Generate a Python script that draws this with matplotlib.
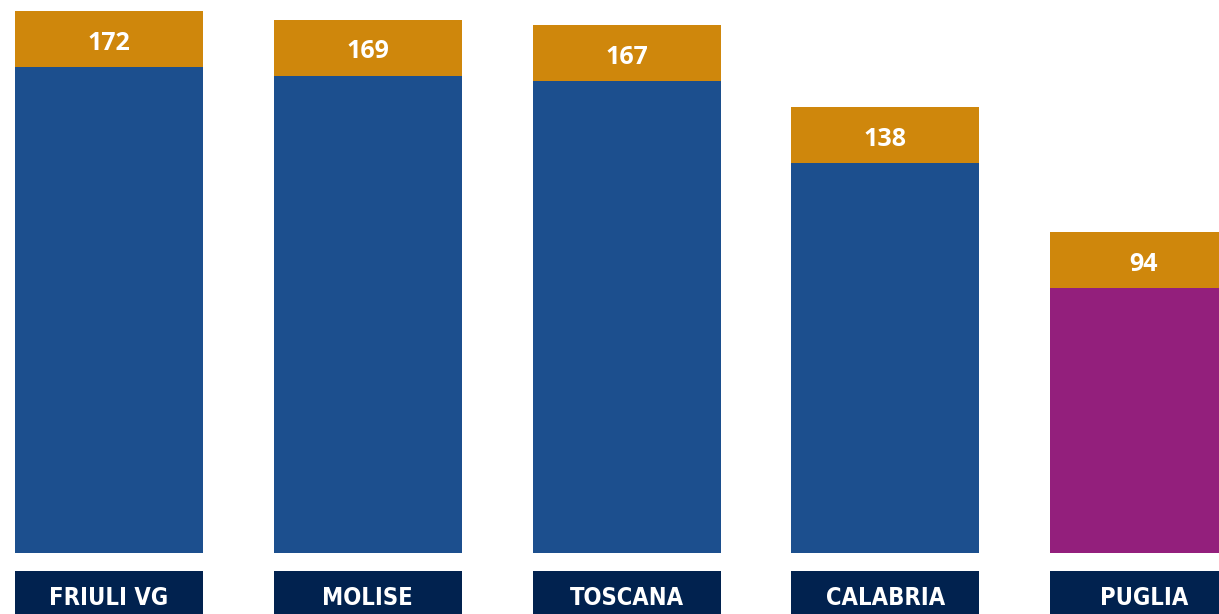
import matplotlib
matplotlib.use("Agg")
from matplotlib import pyplot as plt
import numpy as np

# dati
regioni = ["FRIULI VG", "MOLISE", "TOSCANA", "CALABRIA", "PUGLIA"]
valori = [172, 169, 167, 138, 94]

# stile
BLU = "#1c4f8e"
VIOLA = "#931f7c"
ARANCIO = "#cf870c"
NAVY = "#01224f"
colori_corpo = [BLU, BLU, BLU, BLU, VIOLA]
PX = 2.833           # pixel per unita'
CAPPELLO = 19.8      # altezza fissa della fascia arancione (unita' dati)
BASE = -19.4         # base delle barre
ETICHETTA_TOP = -25.8
LARGH = 188 / 258.75

fig = plt.figure(figsize=(12.19, 6.14), dpi=100)
ax = fig.add_axes([0, 0, 1, 1])

x = np.arange(len(regioni))
valori = np.array(valori, dtype=float)

# corpo della barra
ax.bar(x, valori - CAPPELLO - BASE, bottom=BASE, width=LARGH,
       color=colori_corpo, linewidth=0)
# fascia arancione con il valore
ax.bar(x, CAPPELLO, bottom=valori - CAPPELLO, width=LARGH,
       color=ARANCIO, linewidth=0)
for xi, v in zip(x, valori):
    ax.text(xi, v - CAPPELLO / 2 - 10.5 / PX, f"{int(v)}", ha="center",
            va="baseline", color="white", fontsize=18, fontweight="bold",
            family=["Open Sans", "DejaVu Sans"])

# riquadri con il nome della regione
ax.bar(x, ETICHETTA_TOP + 60, bottom=-60, width=LARGH, color=NAVY, linewidth=0)
for xi, r in zip(x, regioni):
    ax.text(xi, -37.6, r, ha="center", va="baseline", color="white",
            fontsize=17, fontweight="bold", fontstretch="condensed",
            family=["DejaVu Sans"])

ax.set_xlim(-109 / 258.75, -109 / 258.75 + 1219 / 258.75)
ax.set_ylim(-40.8, 175.9)
ax.axis("off")

fig.savefig("out.png", dpi=100, facecolor="white")
